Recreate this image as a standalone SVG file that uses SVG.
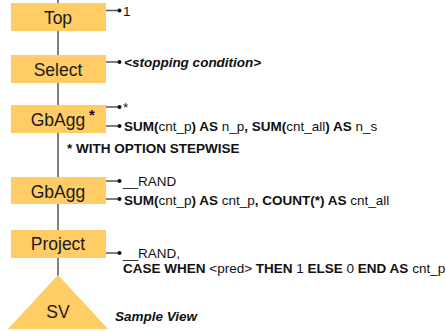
<svg xmlns="http://www.w3.org/2000/svg" width="446" height="331" viewBox="0 0 446 331">
<style>
.box{fill:#FFCC66;}
.lbl{font-family:"Liberation Sans",Arial,sans-serif;font-size:17.5px;fill:#1a1a1a;text-anchor:middle;}
.t{font-family:"Liberation Sans",Arial,sans-serif;font-size:13.5px;fill:#111;}
.b{font-weight:bold;}
.i{font-style:italic;font-weight:bold;}
.ln{stroke:#555;stroke-width:1.5;fill:none;}
.dot{fill:#111;}
</style>
<rect width="446" height="331" fill="#fff"/>
<g id="connectors">
<line class="ln" x1="58" y1="0" x2="58" y2="276"/>
<path class="ln" d="M106 10.5H119M106 62H119M106 107H119M106 126H119M106 181H119M106 199H119M106 253H119"/>
<circle class="dot" cx="119.5" cy="10.5" r="2"/>
<circle class="dot" cx="119.5" cy="62" r="2"/>
<circle class="dot" cx="119.5" cy="107" r="2"/>
<circle class="dot" cx="119.5" cy="126" r="2"/>
<circle class="dot" cx="119.5" cy="181" r="2"/>
<circle class="dot" cx="119.5" cy="199" r="2"/>
<circle class="dot" cx="119.5" cy="253" r="2"/>
</g>
<g id="top">
<rect class="box" x="11" y="3" width="95" height="28"/>
<text class="lbl" x="58" y="24">Top</text>
<text class="t" x="123" y="16">1</text>
</g>
<g id="select">
<rect class="box" x="11" y="55" width="95" height="28"/>
<text class="lbl" x="58" y="76">Select</text>
<text class="t i" x="124" y="67">&lt;stopping condition&gt;</text>
</g>
<g id="gbagg1">
<rect class="box" x="11" y="105" width="95" height="28"/>
<text class="lbl" x="58" y="126">GbAgg</text>
<text class="t b" x="89" y="120" style="font-size:15px">*</text>
<text class="t" x="123" y="112">*</text>
<text class="t" x="124" y="131"><tspan class="b">SUM(</tspan>cnt_p<tspan class="b">) AS</tspan> n_p<tspan class="b">, SUM(</tspan>cnt_all<tspan class="b">) AS</tspan> n_s</text>
<text class="t b" x="67" y="153">* WITH OPTION STEPWISE</text>
</g>
<g id="gbagg2">
<rect class="box" x="11" y="177" width="95" height="27"/>
<text class="lbl" x="58" y="198">GbAgg</text>
<text class="t" x="123" y="186">__RAND</text>
<text class="t" x="124" y="204.5"><tspan class="b">SUM(</tspan>cnt_p<tspan class="b">) AS</tspan> cnt_p<tspan class="b">, COUNT(*) AS</tspan> cnt_all</text>
</g>
<g id="project">
<rect class="box" x="11" y="230" width="95" height="28"/>
<text class="lbl" x="58" y="250">Project</text>
<text class="t" x="123" y="258">__RAND,</text>
<text class="t" x="123" y="273"><tspan class="b">CASE WHEN</tspan> &lt;pred&gt; <tspan class="b">THEN</tspan> 1 <tspan class="b">ELSE</tspan> 0 <tspan class="b">END AS</tspan> cnt_p</text>
</g>
<g id="sv">
<polygon class="box" points="58,275 108,329 8,329"/>
<text class="lbl" x="58" y="318">SV</text>
<text class="t i" x="115" y="321">Sample View</text>
</g>
</svg>
